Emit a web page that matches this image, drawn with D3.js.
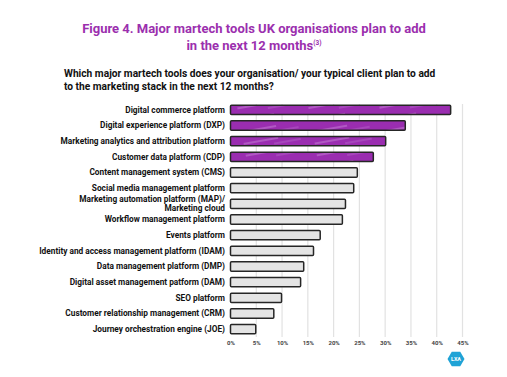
<!DOCTYPE html>
<html>
<head>
<meta charset="utf-8">
<script src="https://cdn.jsdelivr.net/npm/d3@7"></script>
<style>
  body { margin: 0; background: #fff; }
  text { font-family: Roboto, "Noto Sans", sans-serif; }
</style>
</head>
<body>
<div id="chart"></div>
<script>
var categories = [
  "Digital commerce platform",
  "Digital experience platform (DXP)",
  "Marketing analytics and attribution platform",
  "Customer data platform (CDP)",
  "Content management system (CMS)",
  "Social media management platform",
  "Marketing automation platform (MAP)/|Marketing cloud",
  "Workflow management platform",
  "Events platform",
  "Identity and access management platform (IDAM)",
  "Data management platform (DMP)",
  "Digital asset management patform (DAM)",
  "SEO platform",
  "Customer relationship management (CRM)",
  "Journey orchestration engine (JOE)"
];
var values = [42.7, 33.9, 30.1, 27.7, 24.6, 23.9, 22.3, 21.7, 17.4, 16.1, 14.2, 13.6, 9.9, 8.4, 4.9];
var highlighted = [true, true, true, true, false, false, false, false, false, false, false, false, false, false, false];
var ticks = [0, 5, 10, 15, 20, 25, 30, 35, 40, 45];

var width = 507, height = 377;
var purple = "#9a2db0";

var svg = d3.select("#chart").append("svg")
  .attr("width", width)
  .attr("height", height);

// streaky fill for the purple bars
var defs = svg.append("defs");
var pat = defs.append("pattern")
  .attr("id", "hatch")
  .attr("patternUnits", "userSpaceOnUse")
  .attr("width", 70).attr("height", 12)
  .attr("patternTransform", "rotate(-10)");
pat.append("rect").attr("width", 70).attr("height", 12).attr("fill", purple);
pat.append("line").attr("x1", 5).attr("x2", 40).attr("y1", 4).attr("y2", 4)
  .attr("stroke", "#d7a3e2").attr("stroke-width", 0.9).attr("opacity", 0.8);
pat.append("line").attr("x1", 35).attr("x2", 62).attr("y1", 9).attr("y2", 9)
  .attr("stroke", "#d7a3e2").attr("stroke-width", 0.7).attr("opacity", 0.6);

// title
var title = svg.append("text")
  .attr("text-anchor", "middle")
  .attr("fill", "#9b2fae")
  .style("font-size", "13px").style("font-weight", "bold");
title.append("tspan").attr("x", 254).attr("y", 33).text("Figure 4. Major martech tools UK organisations plan to add");
title.append("tspan").attr("x", 254).attr("y", 49.5).text("in the next 12 months");
title.append("tspan").attr("dy", -5).style("font-size", "6.5px").text("(3)");

var sub = svg.append("text")
  .attr("fill", "#111")
  .style("font-size", "10.2px").style("font-weight", "bold");
sub.append("tspan").attr("x", 64).attr("y", 77).text("Which major martech tools does your organisation/ your typical client plan to add");
sub.append("tspan").attr("x", 64).attr("y", 90).text("to the marketing stack in the next 12 months?");

var x = d3.scaleLinear().domain([0, 45]).range([230.5, 462.5]);
var y = d3.scaleBand().domain(categories).range([102, 337]).paddingInner(0.4).paddingOuter(0.2);

// gridlines
svg.append("g").selectAll("line")
  .data(ticks.slice(1)).enter()
  .append("line")
  .attr("x1", function(d){ return x(d); })
  .attr("x2", function(d){ return x(d); })
  .attr("y1", 104).attr("y2", 337)
  .attr("stroke", "#e2e2e2").attr("stroke-width", 1.2);

// x axis
var xAxis = d3.axisBottom(x).tickValues(ticks).tickSize(0).tickFormat(function(d){ return d + "%"; });
var gx = svg.append("g")
  .attr("transform", "translate(0,337)")
  .call(xAxis);
gx.select(".domain").remove();
gx.selectAll("text")
  .attr("fill", "#444")
  .style("font-size", "6px").style("font-weight", "bold")
  .attr("dy", "0.85em");

// bars
svg.append("g").selectAll("rect")
  .data(categories).enter()
  .append("rect")
  .attr("x", x(0))
  .attr("y", function(d){ return y(d); })
  .attr("width", function(d, i){ return x(values[i]) - x(0); })
  .attr("height", y.bandwidth())
  .attr("rx", 1)
  .attr("fill", function(d, i){ return highlighted[i] ? "url(#hatch)" : "#e4e4e4"; })
  .attr("stroke", "#262626")
  .attr("stroke-width", 1.5);

// category labels
var labels = svg.append("g").selectAll("text")
  .data(categories).enter()
  .append("text")
  .attr("x", 225)
  .attr("y", function(d){ return y(d) + y.bandwidth() / 2; })
  .attr("text-anchor", "end")
  .attr("fill", "#111")
  .style("font-size", "8.3px").style("font-weight", "bold");
labels.each(function(d){
  var parts = d.split("|");
  var t = d3.select(this);
  if (parts.length === 1) {
    t.attr("dy", "0.35em").text(d);
  } else {
    t.append("tspan").attr("x", 225).attr("dy", "-0.2em").text(parts[0]);
    t.append("tspan").attr("x", 225).attr("dy", "1.08em").text(parts[1]);
  }
});

// LXA logo
var cx = 456, cy = 359, r = 8.5;
var hex = d3.range(6).map(function(i){
  var a = Math.PI / 3 * i;
  return [cx + r * Math.cos(a), cy + r * Math.sin(a)];
});
svg.append("polygon")
  .attr("points", hex.map(function(p){ return p.join(","); }).join(" "))
  .attr("fill", "#1fa3d6");
svg.append("text")
  .attr("x", cx).attr("y", cy + 2)
  .attr("text-anchor", "middle")
  .attr("fill", "#fff")
  .style("font-size", "5.5px").style("font-weight", "bold")
  .text("LXA");
</script>
</body>
</html>
